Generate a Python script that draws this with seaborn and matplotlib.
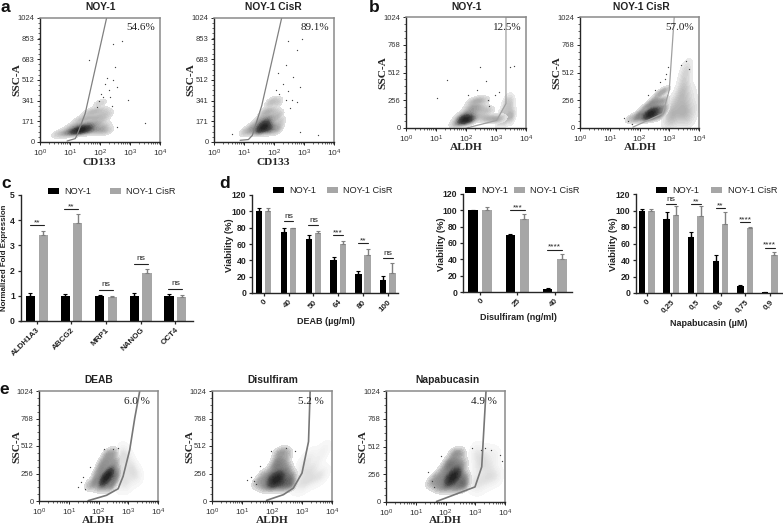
import matplotlib
matplotlib.use("Agg")
import matplotlib.pyplot as plt
from matplotlib.colors import LinearSegmentedColormap
from matplotlib.ticker import FixedLocator, NullFormatter
import numpy as np
import pandas as pd
import seaborn as sns

# ---------- bar data ----------
C_GENES = ["ALDH1A3", "ABCG2", "MRP1", "NANOG", "OCT4"]
C_BLACK = [1, 1, 1, 1, 1]
C_BLACK_ERR = [.13, .08, .05, .10, .06]
C_GRAY = [3.4, 3.87, .95, 1.9, .96]
C_GRAY_ERR = [.18, .37, .06, .16, .07]
C_SIG = ["**", "**", "ns", "ns", "ns"]
C_SIG_Y = [3.8, 4.45, 1.25, 2.27, 1.28]

D1_DOSE = ["0", "40", "50", "64", "80", "100"]
D1_BLACK = [100, 75, 66, 41, 23, 16]
D1_BLACK_ERR = [3.5, 5, 5.5, 3.5, 4, 5]
D1_GRAY = [100, 79, 73, 60, 46, 24]
D1_GRAY_ERR = [3.5, 1, 3, 3.5, 8, 13]
D1_SIG = ["", "ns", "ns", "***", "**", "ns"]
D1_SIG_Y = [0, 88, 83, 71, 61, 43]

D2_DOSE = ["0", "25", "40"]
D2_BLACK = [100, 70, 4]
D2_BLACK_ERR = [1, 1.5, 1.5]
D2_GRAY = [100, 89, 41]
D2_GRAY_ERR = [4, 6, 5]
D2_SIG = ["", "***", "****"]
D2_SIG_Y = [0, 100, 52]

D3_DOSE = ["0", "0,25", "0,5", "0,6", "0,75", "0,9"]
D3_BLACK = [100, 90, 68, 39, 8, 1]
D3_BLACK_ERR = [2, 8, 6, 7, 1.5, .5]
D3_GRAY = [100, 95, 93, 84, 79, 46]
D3_GRAY_ERR = [1.5, 11, 12, 14, .8, 4]
D3_SIG = ["", "ns", "**", "**", "****", "****"]
D3_SIG_Y = [0, 108, 108, 103, 86, 55]

SERIES = ["NOY-1", "NOY-1 CisR"]

# ---------- flow panels: representative cloud positions and gates read by eye ----------
A1_X = [4,6,8,10,13,16,20,25,30,40,50,60,80,100,130,170,10,15,20,30,40,55,75,100,140,20,30,45,65,90,130,40,60,90,130,170,100,12,18,25,35,22,32,45,15,20,25,30,15,20,30,40]
A1_Y = [70,72,78,80,85,90,90,95,100,100,105,100,100,100,95,90,120,130,140,140,150,150,150,145,130,180,190,200,200,200,190,240,250,260,250,230,320,90,95,100,110,110,120,115,85,90,95,100,100,105,110,90]
A1_SX = [265,553,44,316,278,166,360,880,3160,130,215,77,360,200,150,110,260,90]
A1_SY = [808,836,678,623,512,526,457,346,160,374,374,290,125,430,480,400,300,340]
A1_GX = [8,15,17,32,166]
A1_GY = [8,28,55,235,1024]

A2_X = [10,14,18,22,28,35,45,55,70,90,120,18,25,32,40,50,65,85,110,150,30,40,55,70,90,120,170,45,60,80,110,150,70,100,140,35,45,55,70,40,50,60,30,40,50,60,35,45,55,70]
A2_Y = [85,90,95,95,100,100,105,105,100,100,95,130,135,140,145,145,145,140,130,120,180,190,195,200,195,190,170,240,250,260,250,230,320,340,330,110,120,115,120,150,160,170,100,110,120,130,90,130,140,100]
A2_SX = [880,300,570,260,440,140,730,570,3000,730,3.9,200,300,120,400,150,250,350]
A2_SY = [850,830,760,637,540,567,457,332,60,83,70,480,420,430,350,400,350,280]
A2_GX = [7.4,14,19,39,180]
A2_GY = [14,20,55,300,1024]

B1_X = [45,60,75,90,110,130,160,60,80,100,130,170,90,120,160,210,280,370,480,640,850,1100,1400,130,170,230,300,400,550,160,210,280,380,70,80,90,100,110,120,80,90,100,110]
B1_Y = [35,50,55,65,70,75,80,90,100,100,105,100,130,140,150,150,120,100,90,85,85,80,90,180,190,200,190,170,160,230,250,260,250,60,70,80,90,70,80,60,90,100,60]
B1_LX = [1300,1700,2000,2400,2800,3300,1900,2400,3000,3500,1500,2100,2700,3200]
B1_LY = [60,80,70,100,110,90,150,180,170,130,120,230,260,230]
B1_SX = [23,11,240,300,450,550,900,1300,3000,4000,600,120]
B1_SY = [445,275,350,560,430,260,300,330,560,570,200,300]
B1_GX = [105,1050,2150,2150,2150,10000]
B1_GY = [0,70,225,1024,1024,1024]

B2_X = [50,70,90,110,140,170,200,250,300,400,500,90,120,160,200,250,320,400,500,650,150,200,260,330,420,550,700,250,330,430,550,700,400,550,750,180,220,260,300,200,240,280,320]
B2_Y = [90,80,100,90,100,90,100,100,100,110,110,130,140,140,150,150,150,150,150,150,190,200,200,200,190,190,190,240,250,250,250,250,300,330,350,120,130,140,120,110,150,130,160]
B2_LX = [800,1000,1300,1600,2000,2500,3000,3800,4500,1000,1300,1700,2200,2700,3300,4000,1300,1700,2200,2800,3500,4500,2000,2500,3100,3800,2600,3200,3900,3000,3600,4200,1200,6000,7000,5500]
B2_LY = [90,100,90,110,100,110,110,100,90,140,150,160,160,170,160,150,220,230,240,240,230,200,300,310,320,300,380,400,380,480,520,540,70,120,200,300]
B2_SX = [30,40,55,200,330,500,700,800,900,3800,2500,4500]
B2_SY = [90,60,40,300,350,420,450,500,560,620,580,540]
B2_GX = [60,600,1000,1470]
B2_GY = [8,133,350,1024]

E1_X = [45,60,80,100,130,160,200,250,300,70,90,120,150,190,240,300,380,80,110,140,180,230,290,360,450,100,130,170,220,280,350,450,120,160,210,270,340,430,170,220,280,350,130,150,170,200,230,260,150,180,210,240]
E1_Y = [150,140,150,130,140,130,140,130,150,190,200,200,200,190,190,200,190,250,250,260,260,250,250,240,240,300,310,320,320,310,300,290,360,370,380,380,370,360,430,440,450,440,170,190,210,230,250,270,200,220,240,260]
E1_LX = [500,650,800,1000,1300,1700,2200,600,800,1000,1300,600,800,1000,1500,700,500,600]
E1_LY = [150,180,160,190,220,230,250,260,280,300,330,370,390,420,300,460,330,430]
E1_SX = [20,25,35,30,50,150,300,450]
E1_SY = [130,180,110,220,320,480,480,490]
E1_GX = [45,186,457,670,1120,1650,2430]
E1_GY = [3,53,114,229,476,770,1024]

E2_X = [30,45,60,80,100,130,170,220,280,360,450,40,60,80,110,140,180,230,300,380,500,50,70,100,130,170,220,290,370,480,100,130,170,220,290,370,130,170,220,300,150,200,260,350,90,110,130,150,180,210,100,130,160,190]
E2_Y = [160,140,130,140,130,140,130,130,140,140,150,190,190,200,200,200,190,190,190,190,190,240,250,250,260,260,250,250,240,240,310,320,320,320,310,300,370,380,380,370,440,450,460,440,160,180,200,220,240,180,210,170,190,230]
E2_LX = [700,900,1100,1400,1800,2300,3000,4000,5000,900,1200,1600,2000,2800,1100,1500,2000,3500,5500]
E2_LY = [150,170,140,190,200,210,220,240,250,250,280,270,300,310,340,370,420,400,480]
E2_SX = [20,30,25,15,40,90,300,600]
E2_SY = [220,160,190,200,330,470,490,470]
E2_GX = [66,240,515,1000,1650,1870]
E2_GY = [6,59,120,260,553,1024]

E3_X = [30,45,60,80,100,130,170,220,280,360,450,40,60,80,110,140,180,230,300,380,500,50,70,100,130,170,220,290,370,480,80,110,140,180,230,290,370,110,140,180,230,300,400,170,220,280,350,120,150,180,210,240,140,170,200,230]
E3_Y = [170,150,130,140,130,140,130,130,140,140,150,200,190,200,200,200,190,190,190,190,190,240,250,250,260,260,250,250,240,240,300,310,320,320,320,310,300,360,370,380,380,370,360,440,450,460,440,180,200,220,240,260,210,230,250,280]
E3_LX = [800,1000,1300,1600,2000,2600,3300,4200,5500,1100,1500,2000,2600,3500,1400,1900,2600,4500,1000,1200]
E3_LY = [170,190,150,210,200,220,230,240,250,300,330,340,320,340,400,420,440,430,420,470]
E3_SX = [25,40,35,70,800,1600,2200,3500,7000,8000]
E3_SY = [280,140,190,420,500,480,500,480,430,380]
E3_GX = [50,980,1650,2300]
E3_GY = [5,139,324,1024]

W, H = 783, 526
SANS = "Liberation Sans"
SERIF = "Liberation Serif"
sns.set_theme(style="ticks", rc={"font.family": SANS, "axes.linewidth": 1.0})
plt.rcParams["font.family"] = [SANS, "DejaVu Sans"]
plt.rcParams["mathtext.fontset"] = "custom"
plt.rcParams["mathtext.rm"] = SANS
plt.rcParams["mathtext.default"] = "regular"

fig = plt.figure(figsize=(W / 100, H / 100), dpi=100, facecolor="white")
DARK = LinearSegmentedColormap.from_list("d", [(0, "#e4e4e4"), (.25, "#9a9a9a"), (.55, "#4a4a4a"), (1, "#202020")])
LIGHT = LinearSegmentedColormap.from_list("l", ["#efefef", "#cfcfcf", "#b0b0b0"])
FAINT = LinearSegmentedColormap.from_list("f", ["#f9f9f9", "#eeeeee", "#dcdcdc"])


def axes_px(l, t, r, b):
    return fig.add_axes([l / W, 1 - b / H, (r - l) / W, (b - t) / H])


def label_px(axis, x, y):
    axis.set_label_coords(x / W, 1 - y / H, transform=fig.transFigure)


def flow(box, title, title_xy, xlabel, xl_xy, yl_xy, pct, pct_xy, yticks,
         gx, gy, x, y, sx, sy, lx=None, ly=None, gate_color="#808080", gate_lw=.9, light=LIGHT):
    ax = axes_px(*box)
    ax.set_xlim(1, 1e4)
    ax.set_xscale("log")
    ax.set_ylim(0, 1024)
    if lx is not None:
        sns.kdeplot(x=lx, y=ly, ax=ax, fill=True, cmap=light, levels=12, thresh=.03,
                    bw_adjust=.85, log_scale=(True, False))
    sns.kdeplot(x=x, y=y, ax=ax, fill=True, cmap=DARK, levels=24, thresh=.025,
                bw_adjust=.72, log_scale=(True, False))
    sns.scatterplot(x=sx, y=sy, ax=ax, s=.9, color="#444444", linewidth=0)
    sns.lineplot(x=gx, y=gy, ax=ax, color=gate_color, lw=gate_lw, sort=False, estimator=None)
    ax.set_xlim(1, 1e4)
    ax.set_ylim(0, 1024)
    ax.set_xticks([1, 10, 100, 1000, 10000])
    ax.set_xticklabels([f"$10^{{{i}}}$" for i in range(5)], fontsize=6, color="#333333")
    ax.xaxis.set_minor_locator(FixedLocator([m * 10 ** d for d in range(4) for m in range(2, 10)]))
    ax.xaxis.set_minor_formatter(NullFormatter())
    ax.set_yticks(yticks)
    ax.set_yticklabels([str(v) for v in yticks], fontsize=5.5, color="#333333")
    step = yticks[1] / 4
    ax.yaxis.set_minor_locator(FixedLocator(np.arange(0, 1024.1, step)))
    ax.tick_params(axis="both", which="major", length=2.5, width=.7, pad=1.5)
    ax.tick_params(axis="both", which="minor", length=1.3, width=.5)
    for s in ("top", "right"):
        ax.spines[s].set_color("#8a8a8a")
        ax.spines[s].set_linewidth(1.1)
    ax.set_xlabel(xlabel, fontfamily=SERIF, fontweight="bold", fontsize=8.2, va="center")
    ax.set_ylabel("SSC-A", fontfamily=SERIF, fontweight="bold", fontsize=8.2, va="center")
    label_px(ax.xaxis, *xl_xy)
    label_px(ax.yaxis, *yl_xy)
    fig.text(title_xy[0] / W, 1 - title_xy[1] / H, title, ha="center", va="center",
             fontsize=7.4, fontweight="bold", color="#222222")
    fig.text(pct_xy[0] / W, 1 - pct_xy[1] / H, pct, ha="center", va="center",
             fontfamily=SERIF, fontsize=8, color="#222222")
    return ax


def bars(box, cats, black, black_err, gray, gray_err, sig, sig_y, ylim, yticks, xlim,
         width, gap, xlabel, xl_xy, ylabel, yl_xy, legend_xy, col_space, fs=5.8, ylab_fs=6.5):
    ax = axes_px(*box)
    frame = pd.DataFrame({
        "cat": cats * 2,
        "val": black + gray,
        "series": [SERIES[0]] * len(cats) + [SERIES[1]] * len(cats),
    })
    sns.barplot(data=frame, x="cat", y="val", hue="series", ax=ax, width=width, gap=gap,
                palette=["#000000", "#a6a6a6"], saturation=1, errorbar=None, linewidth=0)
    for cont, errs, col in zip(ax.containers, (black_err, gray_err), ("#000000", "#808080")):
        for bar, e in zip(cont, errs):
            xc = bar.get_x() + bar.get_width() / 2
            ax.errorbar(xc, bar.get_height(), yerr=[[0], [e]], color=col, elinewidth=1,
                        capsize=1.4, capthick=.8, zorder=1)
    for i, (s, y) in enumerate(zip(sig, sig_y)):
        if s:
            ax.plot([i - .2, i + .2], [y, y], color="#222222", lw=.8, clip_on=False)
            dy = 0.012 * (ylim[1] - ylim[0]) if s == "ns" else -0.012 * (ylim[1] - ylim[0])
            ax.text(i, y + dy, s, ha="center", va="bottom", fontsize=6, color="#222222")
    ax.set_xlim(*xlim)
    ax.set_ylim(*ylim)
    ax.set_yticks(yticks)
    ax.set_yticklabels([str(v) for v in yticks], fontsize=fs + .4, fontweight="bold", color="#222222")
    ax.set_xticks(range(len(cats)))
    ax.set_xticklabels(cats, rotation=45, ha="right", rotation_mode="anchor",
                       fontsize=fs, fontweight="bold", color="#222222")
    ax.tick_params(axis="both", length=2.5, width=.9, pad=1.5)
    sns.despine(ax=ax)
    ax.set_xlabel(xlabel, fontsize=6.5, fontweight="bold", color="#222222", va="center")
    ax.set_ylabel(ylabel, fontsize=ylab_fs, fontweight="bold", color="#222222", va="center")
    if xl_xy:
        label_px(ax.xaxis, *xl_xy)
    label_px(ax.yaxis, *yl_xy)
    sns.move_legend(ax, "center left", bbox_to_anchor=(legend_xy[0] / W, 1 - legend_xy[1] / H),
                    bbox_transform=fig.transFigure, ncol=2, frameon=False, title=None,
                    fontsize=6.6, handlelength=1.2, handleheight=.55, handletextpad=.6,
                    columnspacing=col_space, borderpad=0, borderaxespad=0)
    for t in ax.get_legend().get_texts():
        t.set_color("#222222")
    return ax


Y_A = [0, 171, 341, 512, 683, 853, 1024]
Y_B = [0, 256, 512, 768, 1024]

flow((40, 18, 160, 142), "NOY-1", (101, 7), "CD133", (99, 163), (17, 80), "54.6%", (141, 27), Y_A,
     A1_GX, A1_GY, A1_X, A1_Y, A1_SX, A1_SY)
flow((214, 18, 334, 142), "NOY-1 CisR", (273, 7), "CD133", (273, 163), (191, 80), "89.1%", (315, 27), Y_A,
     A2_GX, A2_GY, A2_X, A2_Y, A2_SX, A2_SY)
flow((406, 17, 526, 128), "NOY-1", (467, 7), "ALDH", (466, 148), (383, 73), "12.5%", (507, 28), Y_B,
     B1_GX, B1_GY, B1_X, B1_Y, B1_SX, B1_SY, B1_LX, B1_LY, "#a0a0a0")
flow((580, 17, 699, 128), "NOY-1 CisR", (641, 7), "ALDH", (640, 148), (557, 73), "57.0%", (680, 28), Y_B,
     B2_GX, B2_GY, B2_X, B2_Y, B2_SX, B2_SY, B2_LX, B2_LY, "#a0a0a0")
flow((39, 391, 158, 501), "DEAB", (99, 380), "ALDH", (98, 520.5), (17, 447), "6.0 %", (137, 402), Y_B,
     E1_GX, E1_GY, E1_X, E1_Y, E1_SX, E1_SY, E1_LX, E1_LY, "#777777", 1.2, FAINT)
flow((212, 391, 332, 501), "Disulfiram", (273, 380), "ALDH", (272, 520.5), (190, 447), "5.2 %", (311, 402), Y_B,
     E2_GX, E2_GY, E2_X, E2_Y, E2_SX, E2_SY, E2_LX, E2_LY, "#777777", 1.2, FAINT)
flow((386, 391, 505, 502), "Napabucasin", (447, 380), "ALDH", (445, 520.5), (363, 447), "4.9 %", (484, 402), Y_B,
     E3_GX, E3_GY, E3_X, E3_Y, E3_SX, E3_SY, E3_LX, E3_LY, "#777777", 1.2, FAINT)

bars((20.5, 195, 193, 321), C_GENES, C_BLACK, C_BLACK_ERR, C_GRAY, C_GRAY_ERR, C_SIG, C_SIG_Y,
     (0, 5), [0, 1, 2, 3, 4, 5], (-.47, 4.51), .73, .28, "", None,
     "Normalized Fold Expression", (5, 258), (48, 192), 2.0, ylab_fs=5.7)
mu = "\u00b5"
bars((252, 195, 398, 293), D1_DOSE, D1_BLACK, D1_BLACK_ERR, D1_GRAY, D1_GRAY_ERR, D1_SIG, D1_SIG_Y,
     (0, 120), [0, 20, 40, 60, 80, 100, 120], (-.47, 5.41), .75, .32, f"DEAB ({mu}g/ml)", (326, 321),
     "Viability (%)", (229, 245), (273, 191), 1.1, ylab_fs=6.8)
bars((463, 194, 572, 292), D2_DOSE, D2_BLACK, D2_BLACK_ERR, D2_GRAY, D2_GRAY_ERR, D2_SIG, D2_SIG_Y,
     (0, 120), [0, 20, 40, 60, 80, 100, 120], (-.457, 2.46), .753, .33, "Disulfiram (ng/ml)", (518, 318),
     "Viability (%)", (441, 244), (465, 191), .55, ylab_fs=6.8)
bars((636, 194, 782, 293), D3_DOSE, D3_BLACK, D3_BLACK_ERR, D3_GRAY, D3_GRAY_ERR, D3_SIG, D3_SIG_Y,
     (0, 120), [0, 20, 40, 60, 80, 100, 120], (-.435, 5.5), .76, .33, f"Napabucasin ({mu}M)", (709, 323),
     "Viability (%)", (613, 244), (656, 191), 1.3, ylab_fs=6.8)

for s, x, y in (("a", 5, 7), ("b", 374, 7), ("c", 6, 184), ("d", 225, 184), ("e", 4, 389)):
    fig.text(x / W, 1 - y / H, s, ha="center", va="center", fontsize=12.5, fontweight="bold", color="#111111")

fig.savefig("out.png", dpi=100)
